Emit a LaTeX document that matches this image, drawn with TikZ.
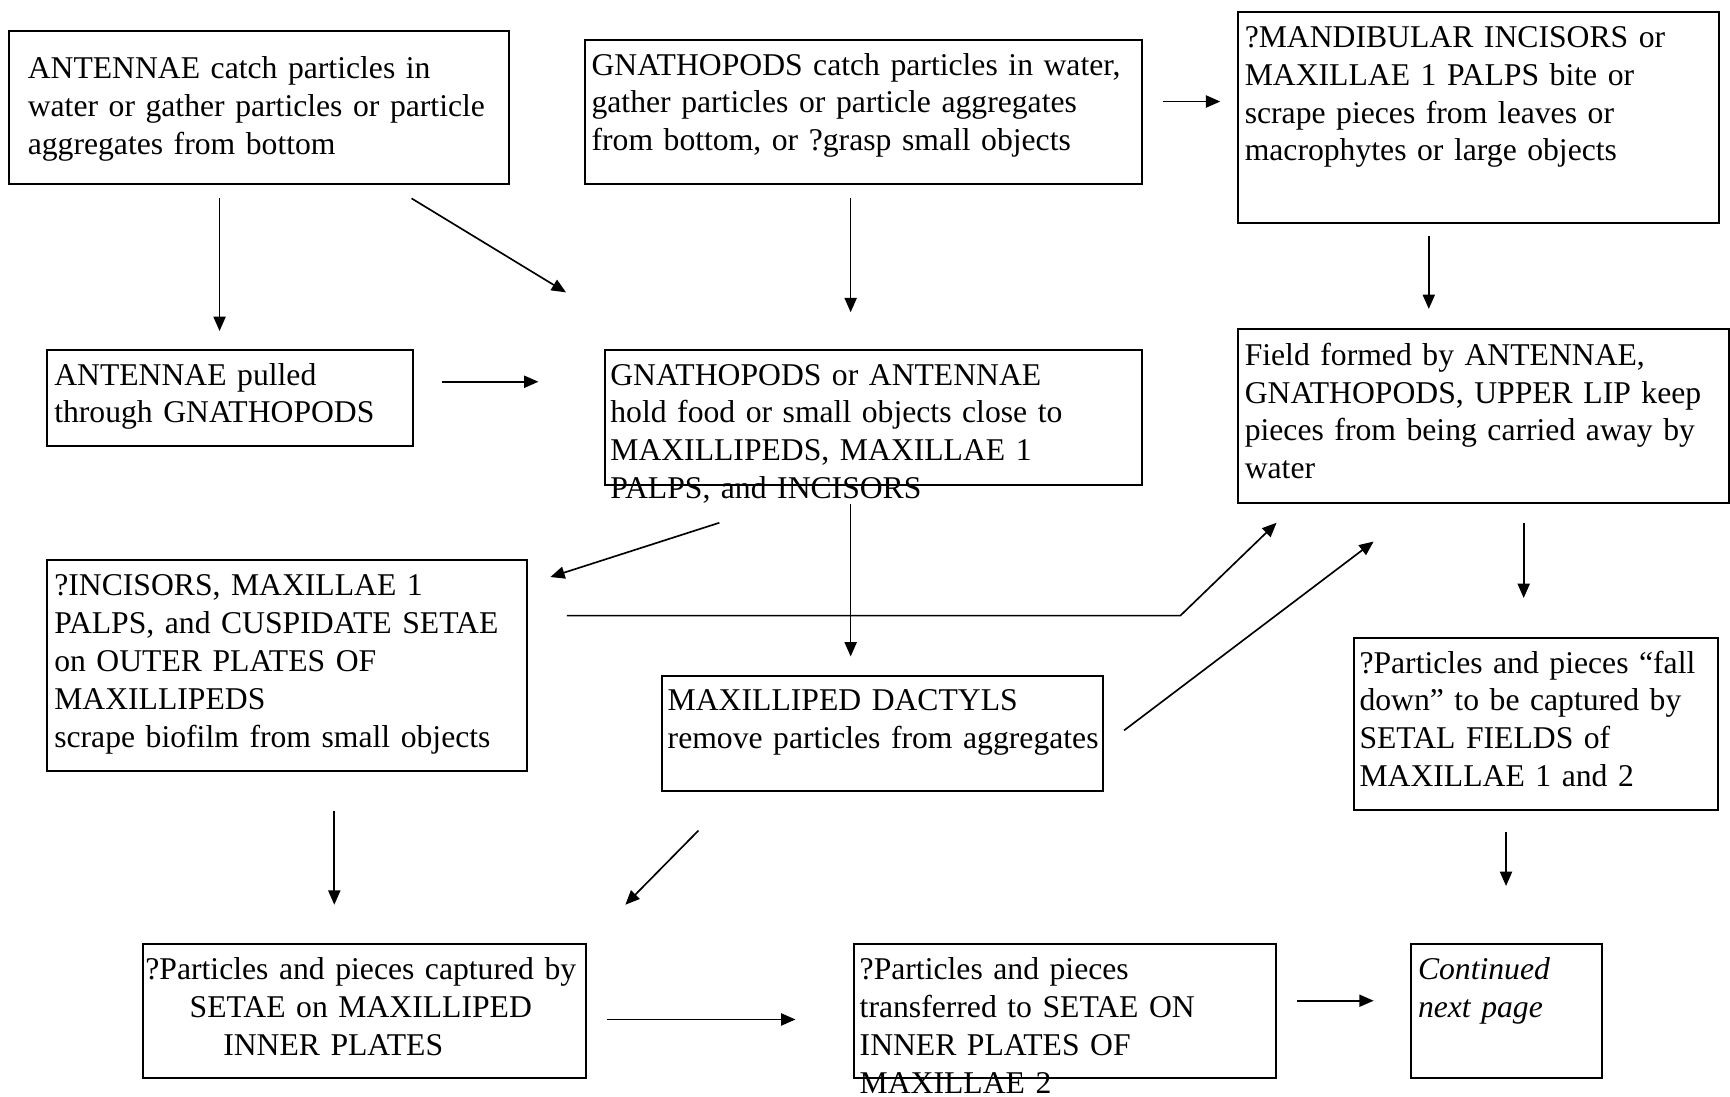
\documentclass[tikz,border=0pt]{standalone}
\usepackage{fontspec}
\setmainfont{Liberation Serif}
\usetikzlibrary{arrows.meta,calc}

\begin{document}
\begin{tikzpicture}[x=1pt,y=-1pt,
    font=\fontsize{28.7}{34.3}\selectfont,
    box/.style={draw, line width=1.8pt, anchor=north west, inner sep=0pt},
    txt/.style={anchor=base west, align=left, inner sep=0pt, text width=520pt},
    arr/.style={line width=1.5pt, -{Triangle[length=13pt,width=11pt]}}]
    \useasboundingbox (0,0) rectangle (1568,994);

    % frames
    \node[box, minimum width=453, minimum height=139] (antcatch) at (7,27) {};
    \node[box, minimum width=505, minimum height=131] (gnacatch) at (529,35) {};
    \node[box, minimum width=436, minimum height=191] (mandinc) at (1121,10) {};
    \node[box, minimum width=331, minimum height=87] (antpull) at (42,316) {};
    \node[box, minimum width=487, minimum height=123] (gnahold) at (547,316) {};
    \node[box, minimum width=445, minimum height=158] (field) at (1121,297) {};
    \node[box, minimum width=435, minimum height=191] (incisors) at (42,507) {};
    \node[box, minimum width=400, minimum height=104] (dactyls) at (599,612) {};
    \node[box, minimum width=330, minimum height=156] (falldown) at (1226,577) {};
    \node[box, minimum width=401, minimum height=121] (maxipd) at (129,855) {};
    \node[box, minimum width=383, minimum height=121] (maxtwo) at (773,855) {};
    \node[box, minimum width=173, minimum height=121] (contd) at (1278,855) {};

    % texts
    \node[txt] (antcatch-t) at (25,71) {ANTENNAE catch particles in\\water or gather particles or particle\\aggregates from bottom};
    \node[txt] (gnacatch-t) at (536,68) {GNATHOPODS catch particles in water,\\gather particles or particle aggregates\\from bottom, or ?grasp small objects};
    \node[txt] (mandinc-t) at (1128,43) {?MANDIBULAR INCISORS or\\MAXILLAE 1 PALPS bite or\\scrape pieces from leaves or\\macrophytes or large objects};
    \node[txt] (antpull-t) at (49,349) {ANTENNAE pulled\\through GNATHOPODS};
    \node[txt] (gnahold-t) at (553,349) {GNATHOPODS or ANTENNAE\\hold food or small objects close to\\MAXILLIPEDS, MAXILLAE 1\\PALPS, and INCISORS};
    \node[txt] (field-t) at (1128,331) {Field formed by ANTENNAE,\\GNATHOPODS, UPPER LIP keep\\pieces from being carried away by\\water};
    \node[txt] (incisors-t) at (49,540) {?INCISORS, MAXILLAE 1\\PALPS, and CUSPIDATE SETAE\\on OUTER PLATES OF\\MAXILLIPEDS\\scrape biofilm from small objects};
    \node[txt] (dactyls-t) at (605,644) {MAXILLIPED DACTYLS\\remove particles from aggregates};
    \node[txt] (falldown-t) at (1232,610) {?Particles and pieces “fall\\down” to be captured by\\SETAL FIELDS of\\MAXILLAE 1 and 2};
    \node[txt, anchor=base, align=center, text width=420pt] (maxipd-t) at (327,888) {?Particles and pieces captured by\\SETAE on MAXILLIPED\\INNER PLATES\rule{50pt}{0pt}};
    \node[txt] (maxtwo-t) at (779,888) {?Particles and pieces\\transferred to SETAE ON\\INNER PLATES OF\\MAXILLAE 2};
    \node[txt, font=\fontsize{28.7}{34.3}\selectfont\itshape] (contd-t) at (1285,888) {Continued\\next page};

    % arrows
    \draw[arr] ($(gnacatch.north east)+(18,57)$) -- ($(mandinc.north west)+(-15,82)$);
    \draw[arr] ($(antcatch.south west)+(192,12)$) -- ($(antpull.north west)+(157,-16)$);
    \draw[arr] ($(antcatch.south west)+(366,12)$) -- ($(gnahold.north west)+(-34,-51)$);
    \draw[arr] ($(gnacatch.south west)+(242,12)$) -- ($(gnahold.north west)+(224,-33)$);
    \draw[arr] ($(mandinc.south west)+(174,11)$) -- ($(field.north west)+(174,-17)$);
    \draw[arr] ($(antpull.north east)+(26,30)$) -- ($(gnahold.north west)+(-59,30)$);
    \draw[arr] ($(gnahold.south west)+(105,33)$) -- ($(incisors.north east)+(20,16)$);
    \draw[arr] ($(gnahold.south west)+(224,16)$) -- ($(dactyls.north west)+(172,-17)$);
    \draw[arr] ($(incisors.north east)+(35,51)$) -- ++(556,0) -- ($(field.south west)+(36,17)$);
    \draw[arr] ($(dactyls.north east)+(18,50)$) -- ($(field.south west)+(124,34)$);
    \draw[arr] ($(field.south west)+(260,17)$) -- ($(falldown.north west)+(155,-35)$);
    \draw[arr] ($(incisors.south west)+(261,35)$) -- ($(maxipd.north west)+(174,-35)$);
    \draw[arr] ($(dactyls.south west)+(34,35)$) -- ($(maxipd.north east)+(35,-35)$);
    \draw[arr] ($(falldown.south west)+(139,19)$) -- ($(contd.north west)+(87,-52)$);
    \draw[arr] ($(maxipd.north east)+(18,69)$) -- ($(maxtwo.north west)+(-52,69)$);
    \draw[arr] ($(maxtwo.north east)+(18,52)$) -- ($(contd.north west)+(-33,52)$);
\end{tikzpicture}
\end{document}
